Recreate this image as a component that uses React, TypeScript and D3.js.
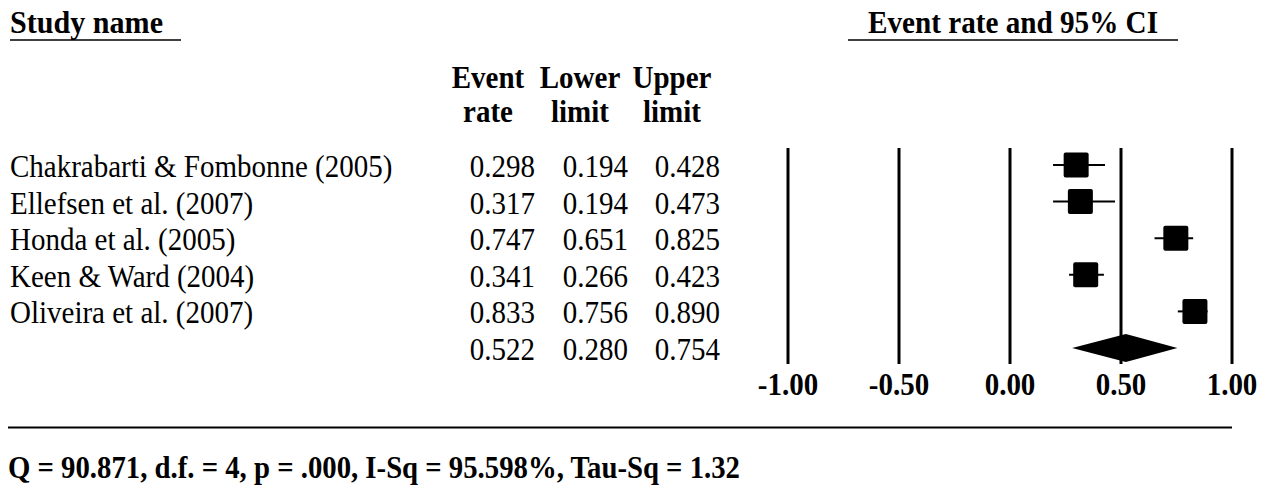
import React from 'react';
import * as d3 from 'd3';

// ---- data ----
const studies = [
  'Chakrabarti & Fombonne (2005)',
  'Ellefsen et al. (2007)',
  'Honda et al. (2005)',
  'Keen & Ward (2004)',
  'Oliveira et al. (2007)',
];
const eventRate = [0.298, 0.317, 0.747, 0.341, 0.833];
const lowerLimit = [0.194, 0.194, 0.651, 0.266, 0.756];
const upperLimit = [0.428, 0.473, 0.825, 0.423, 0.89];
const summaryRate = 0.522;
const summaryLower = 0.28;
const summaryUpper = 0.754;
const axisTicks = [-1, -0.5, 0, 0.5, 1];
const columnHeaderTop = ['Event', 'Lower', 'Upper'];
const columnHeaderBottom = ['rate', 'limit', 'limit'];
const statsText = 'Q = 90.871, d.f. = 4, p = .000, I-Sq = 95.598%, Tau-Sq = 1.32';

// ---- layout ----
const W = 1278;
const H = 486;
const SY = 1.1;
const FONT = "'Liberation Serif', 'Times New Roman', serif";

type TProps = {
  x: number;
  y: number;
  children: React.ReactNode;
  anchor?: 'start' | 'middle' | 'end';
  bold?: boolean;
  size?: number;
  width?: number;
};

function T({ x, y, children, anchor = 'start', bold = false, size = 29, width }: TProps) {
  return (
    <text
      transform={`translate(${x},${y}) scale(1,${SY})`}
      textAnchor={anchor}
      fontWeight={bold ? 'bold' : 'normal'}
      fontSize={size}
      fontFamily={FONT}
      fill="#000"
      {...(width ? { textLength: width, lengthAdjust: 'spacingAndGlyphs' } : {})}
    >
      {children}
    </text>
  );
}

export default function App() {
  const x = d3.scaleLinear().domain([-1, 1]).range([788, 1232]);
  const rows = d3.scalePoint<number>().domain(d3.range(studies.length + 1)).range([165, 348]);
  const fmt = d3.format('.3f');
  const tickFmt = (v: number) => d3.format('.2f')(v).replace('\u2212', '-');
  const colRight = [535, 628, 720];
  const headCenter = [488, 580, 672];
  const box = 25;
  const lineTop = 148;
  const lineBottom = 364;
  const ySum = rows(studies.length) as number;
  const diamond = d3.line()([
    [x(summaryLower), ySum],
    [x(summaryRate), ySum - 14],
    [x(summaryUpper), ySum],
    [x(summaryRate), ySum + 14],
  ]) + 'Z';

  return (
    <svg
      width={W}
      height={H}
      viewBox={`0 0 ${W} ${H}`}
      style={{ position: 'absolute', left: 0, top: 0, background: '#fff' }}
    >
      <rect x={0} y={0} width={W} height={H} fill="#fff" />
      {/* Headers */}
      <T x={10} y={33} bold width={153}>Study name</T>
      <line x1={10} x2={181} y1={40} y2={40} stroke="#000" strokeWidth={1.5} />
      <T x={868} y={33} bold width={290}>Event rate and 95% CI</T>
      <line x1={848} x2={1178} y1={40} y2={40} stroke="#000" strokeWidth={1.5} />

      {columnHeaderTop.map((h, i) => (
        <T key={'ht' + i} x={headCenter[i]} y={88} bold anchor="middle">{h}</T>
      ))}
      {columnHeaderBottom.map((h, i) => (
        <T key={'hb' + i} x={headCenter[i]} y={122} bold anchor="middle">{h}</T>
      ))}

      {/* Study rows */}
      {studies.map((s, i) => {
        const cy = rows(i) as number;
        return (
          <g key={s}>
            <T x={10} y={cy + 12}>{s}</T>
            <T x={colRight[0]} y={cy + 12} anchor="end">{fmt(eventRate[i])}</T>
            <T x={colRight[1]} y={cy + 12} anchor="end">{fmt(lowerLimit[i])}</T>
            <T x={colRight[2]} y={cy + 12} anchor="end">{fmt(upperLimit[i])}</T>
          </g>
        );
      })}
      <T x={colRight[0]} y={ySum + 12} anchor="end">{fmt(summaryRate)}</T>
      <T x={colRight[1]} y={ySum + 12} anchor="end">{fmt(summaryLower)}</T>
      <T x={colRight[2]} y={ySum + 12} anchor="end">{fmt(summaryUpper)}</T>

      {/* Reference lines */}
      {axisTicks.map((t) => (
        <line key={'v' + t} x1={x(t)} x2={x(t)} y1={lineTop} y2={lineBottom} stroke="#000" strokeWidth={3} />
      ))}

      {/* CI lines and boxes */}
      {studies.map((s, i) => {
        const cy = rows(i) as number;
        return (
          <g key={'m' + i}>
            <line x1={x(lowerLimit[i])} x2={x(upperLimit[i])} y1={cy} y2={cy} stroke="#000" strokeWidth={2} />
            <rect x={x(eventRate[i]) - box / 2} y={cy - box / 2} width={box} height={box} rx={2} fill="#000" />
          </g>
        );
      })}
      <path d={diamond} fill="#000" />

      {/* Tick labels */}
      {axisTicks.map((t) => (
        <T key={'tl' + t} x={x(t)} y={395} bold anchor="middle">{tickFmt(t)}</T>
      ))}

      {/* Bottom rule and stats */}
      <line x1={8} x2={1232} y1={427.5} y2={427.5} stroke="#000" strokeWidth={2} />
      <T x={8} y={478} bold width={732}>{statsText}</T>
    </svg>
  );
}
